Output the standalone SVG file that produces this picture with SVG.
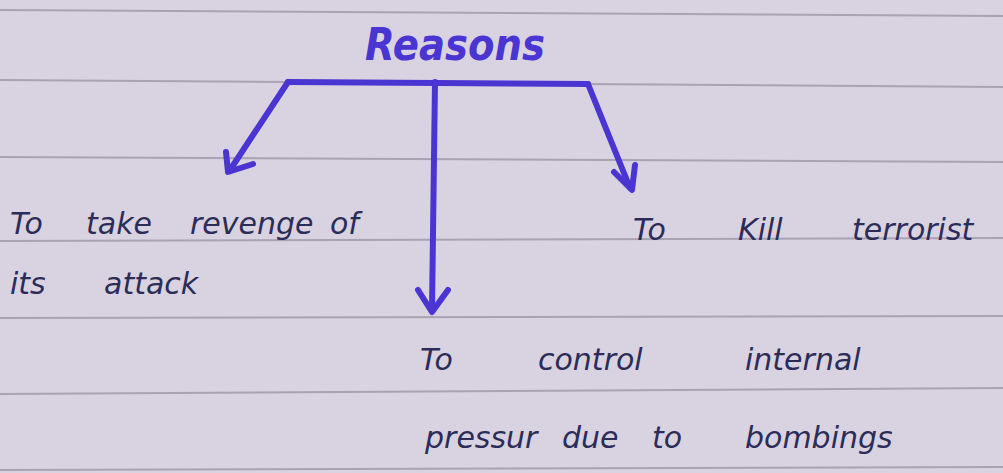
<svg xmlns="http://www.w3.org/2000/svg" width="1003" height="473" viewBox="0 0 1003 473">
<defs>
<style>
.rule{stroke:#a8a2b2;stroke-width:2;fill:none}
.conn{stroke:#4b35d2;stroke-width:6;fill:none;stroke-linecap:round;stroke-linejoin:round}
.head{stroke:#4b35d2;stroke-width:6;fill:none;stroke-linecap:round;stroke-linejoin:round}
.txt{font-family:"DejaVu Sans","Liberation Sans",sans-serif;font-style:italic;fill:#2c2c58;font-size:30px}
.title{font-family:"DejaVu Sans","Liberation Sans",sans-serif;font-style:italic;fill:#4b35d2;font-size:44px;font-weight:bold}
</style>
</defs>
<rect x="0" y="0" width="1003" height="473" fill="#d9d3e1"/>
<g id="rules">
<line class="rule" x1="0" y1="10" x2="1003" y2="16"/>
<line class="rule" x1="0" y1="80" x2="1003" y2="87"/>
<line class="rule" x1="0" y1="157" x2="1003" y2="162"/>
<line class="rule" x1="0" y1="241" x2="1003" y2="238"/>
<line class="rule" x1="0" y1="318" x2="1003" y2="316"/>
<line class="rule" x1="0" y1="394" x2="1003" y2="388"/>
<line class="rule" x1="0" y1="470" x2="1003" y2="467"/>
</g>
<g id="connectors">
<path class="conn" d="M288,82 L588,84"/>
<path class="conn" d="M288,82 L230,170"/>
<path class="head" d="M226,152 L228,172 L253,164"/>
<path class="conn" d="M435,82 L432,310"/>
<path class="head" d="M418,290 L432,312 L448,290"/>
<path class="conn" d="M588,84 L630,188"/>
<path class="head" d="M614,172 L632,190 L635,165"/>
</g>
<g id="node-reasons"><text class="title" x="455" y="60" text-anchor="middle" textLength="180" lengthAdjust="spacingAndGlyphs">Reasons</text></g>
<g id="node-revenge">
<text class="txt" y="234"><tspan x="10">To</tspan> <tspan x="86">take</tspan> <tspan x="190">revenge</tspan> <tspan x="330">of</tspan></text>
<text class="txt" y="294"><tspan x="10">its</tspan> <tspan x="104">attack</tspan></text>
</g>
<g id="node-kill"><text class="txt" y="240"><tspan x="633">To</tspan> <tspan x="738">Kill</tspan> <tspan x="852">terrorist</tspan></text></g>
<g id="node-control">
<text class="txt" y="370"><tspan x="420">To</tspan> <tspan x="538">control</tspan> <tspan x="745">internal</tspan></text>
<text class="txt" y="448"><tspan x="425">pressur</tspan> <tspan x="562">due</tspan> <tspan x="652">to</tspan> <tspan x="745">bombings</tspan></text>
</g>
</svg>
